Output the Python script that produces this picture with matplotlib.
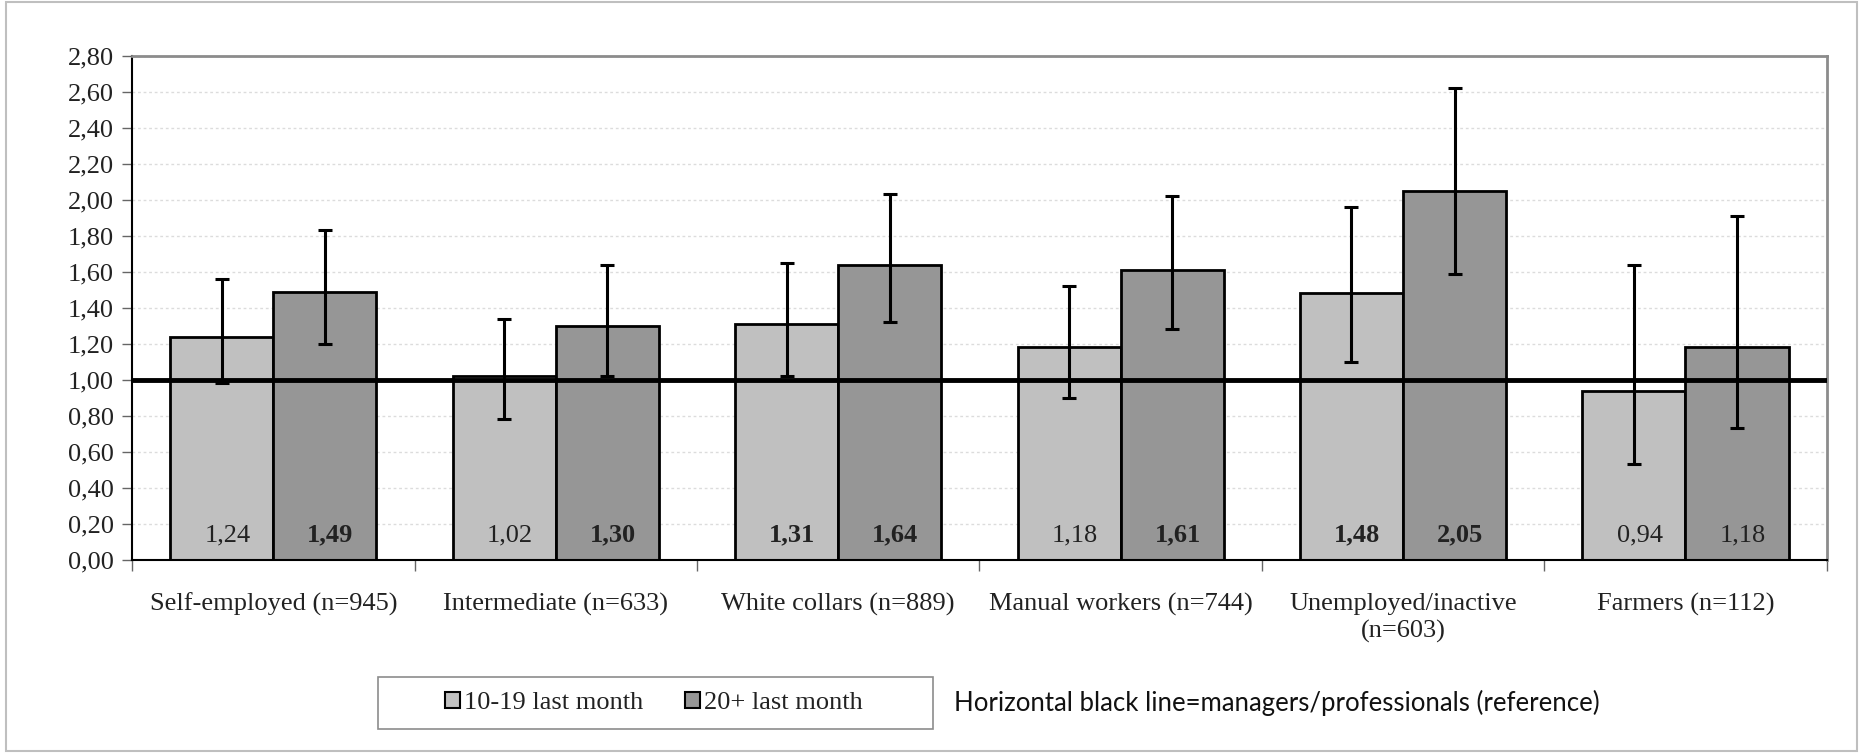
import matplotlib
matplotlib.use("Agg")
import matplotlib.pyplot as plt
from matplotlib.patches import Patch, Rectangle
import numpy as np

categories = ["Self-employed (n=945)", "Intermediate (n=633)", "White collars (n=889)",
              "Manual workers (n=744)", "Unemployed/inactive\n(n=603)", "Farmers (n=112)"]
light_vals = [1.24, 1.02, 1.31, 1.18, 1.48, 0.94]
light_lo = [0.98, 0.78, 1.02, 0.90, 1.10, 0.53]
light_hi = [1.56, 1.34, 1.65, 1.52, 1.96, 1.64]
light_bold = [False, False, True, False, True, False]
dark_vals = [1.49, 1.30, 1.64, 1.61, 2.05, 1.18]
dark_lo = [1.20, 1.02, 1.32, 1.28, 1.59, 0.73]
dark_hi = [1.83, 1.64, 2.03, 2.02, 2.62, 1.91]
dark_bold = [True, True, True, True, True, False]
series_names = ["10-19 last month", "20+ last month"]
note = "Horizontal black line=managers/professionals (reference)"

SERIF = "Liberation Serif"
LIGHT = "#c0c0c0"
DARK = "#969696"


def fmt(v):
    return f"{v:.2f}".replace(".", ",")


def main():
    fig = plt.figure(figsize=(18.63, 7.56), dpi=100)
    ax = fig.add_axes([0.0709, 0.2598, 0.9096, 0.6662])

    x = np.arange(len(categories))
    w = 0.365

    for vals, lo, hi, bold, col, off in [
        (light_vals, light_lo, light_hi, light_bold, LIGHT, -w / 2),
        (dark_vals, dark_lo, dark_hi, dark_bold, DARK, w / 2),
    ]:
        vals = np.array(vals)
        ax.bar(x + off, vals, width=w, color=col, edgecolor="black", linewidth=2, zorder=2)
        yerr = np.vstack([vals - np.array(lo), np.array(hi) - vals])
        ax.errorbar(x + off, vals, yerr=yerr, fmt="none", ecolor="black",
                    elinewidth=2.2, capsize=5, capthick=2.2, zorder=4)
        for xi, v, b in zip(x + off, vals, bold):
            ax.text(xi + 0.02, 0.135, fmt(v), ha="center", va="center",
                    fontsize=19, family=SERIF, color="#222222",
                    fontweight="bold" if b else "normal", zorder=5)

    ax.axhline(1.0, color="black", linewidth=3.5, zorder=3)

    ax.set_xlim(-0.5, len(categories) - 0.5)
    ax.set_ylim(0, 2.8)
    yt = np.arange(0, 2.81, 0.2)
    ax.set_yticks(yt)
    ax.set_yticklabels([fmt(v) for v in yt], family=SERIF, fontsize=19, color="#222222")
    ax.yaxis.grid(True, color="#dcdcdc", linestyle=(0, (2, 2)), linewidth=1, zorder=0)
    ax.set_axisbelow(True)
    ax.tick_params(axis="y", direction="out", length=7, width=1, color="#666666", pad=6)

    ax.set_xticks(x)
    ax.set_xticklabels(categories, family=SERIF, fontsize=19, color="#222222",
                       linespacing=1.3, va="top")
    ax.set_xticks(np.arange(-0.5, len(categories), 1.0), minor=True)
    ax.tick_params(axis="x", which="major", length=0, pad=24)
    ax.tick_params(axis="x", which="minor", direction="out", length=8, width=1, color="#666666")

    ax.spines["left"].set_color("black")
    ax.spines["left"].set_linewidth(1.5)
    ax.spines["bottom"].set_color("black")
    ax.spines["bottom"].set_linewidth(1.5)
    for s in ["top", "right"]:
        ax.spines[s].set_color("#8c8c8c")
        ax.spines[s].set_linewidth(2)

    handles = [Patch(facecolor=LIGHT, edgecolor="black", linewidth=1.5),
               Patch(facecolor=DARK, edgecolor="black", linewidth=1.5)]
    fig.legend(handles, series_names, loc="center", bbox_to_anchor=(0.351, 0.070),
               ncol=2, frameon=False, handlelength=0.55, handleheight=0.55,
               handletextpad=0.15, columnspacing=1.6, borderaxespad=0,
               prop={"family": SERIF, "size": 19}, labelcolor="#222222")
    fig.patches.append(Rectangle((0.2028, 0.036), 0.2978, 0.068, transform=fig.transFigure,
                                 fill=False, edgecolor="#8c8c8c", linewidth=1.2))

    fig.text(0.512, 0.070, note, ha="left", va="center", fontsize=18.5,
             family="Lato", color="#111111")

    fig.patches.append(Rectangle((0.003, 0.006), 0.994, 0.991, transform=fig.transFigure,
                                 fill=False, edgecolor="#bfbfbf", linewidth=1.5))

    fig.savefig("out.png", dpi=100)


if __name__ == "__main__":
    main()
